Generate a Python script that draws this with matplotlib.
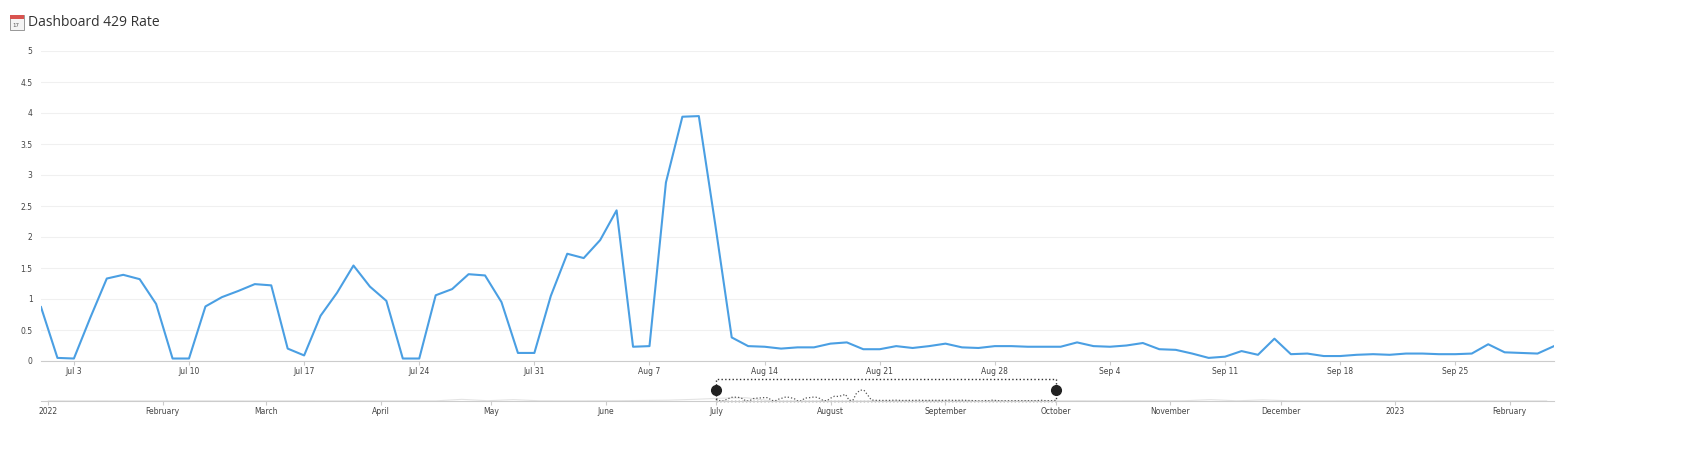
import datetime as dt
import matplotlib
matplotlib.use('Agg')
import matplotlib.pyplot as plt
import matplotlib.dates as mdates
from matplotlib.patches import Rectangle

# Daily 429 rate, Jul 1 - Oct 1 2022
start = dt.date(2022, 7, 1)
rate = [0.87, 0.05, 0.04, 0.7, 1.33, 1.39, 1.32, 0.92, 0.04, 0.04,
        0.88, 1.03, 1.13, 1.24, 1.22, 0.2, 0.09, 0.73, 1.1, 1.54,
        1.2, 0.97, 0.04, 0.04, 1.06, 1.16, 1.4, 1.38, 0.95, 0.13,
        0.13, 1.05, 1.73, 1.66, 1.95, 2.43, 0.23, 0.24, 2.88, 3.94,
        3.95, 2.2, 0.38, 0.24, 0.23, 0.2, 0.22, 0.22, 0.28, 0.3,
        0.19, 0.19, 0.24, 0.21, 0.24, 0.28, 0.22, 0.21, 0.24, 0.24,
        0.23, 0.23, 0.23, 0.3, 0.24, 0.23, 0.25, 0.29, 0.19, 0.18,
        0.12, 0.05, 0.07, 0.16, 0.1, 0.36, 0.11, 0.12, 0.08, 0.08,
        0.1, 0.11, 0.1, 0.12, 0.12, 0.11, 0.11, 0.12, 0.27, 0.14,
        0.13, 0.12, 0.24]
dates = [start + dt.timedelta(days=i) for i in range(len(rate))]

# Navigator background series (weekly, whole range)
nav_start = dt.date(2022, 1, 1)
nav_rate = [0.05, 0.04, 0.06, 0.05, 0.04, 0.05, 0.06, 0.05, 0.04, 0.05,
            0.06, 0.05, 0.07, 0.05, 0.06, 0.05, 0.6, 0.1, 0.5, 0.08,
            0.06, 0.07, 0.1, 0.2, 0.3, 0.6, 1.0, 1.2, 0.0, 0.0,
            0.0, 0.0, 0.0, 0.0, 0.0, 0.0, 0.0, 0.0, 0.0, 0.08,
            0.1, 0.07, 0.09, 0.06, 0.1, 0.5, 0.07, 0.4, 0.08, 0.06,
            0.07, 0.1, 0.06, 0.05, 0.06, 0.07, 0.05, 0.06, 0.05]
nav_dates = [nav_start + dt.timedelta(days=7 * i) for i in range(len(nav_rate))]

W, H = 1694, 459
fig = plt.figure(figsize=(W / 100, H / 100), dpi=100)
blue = '#4a9fe3'

ax = fig.add_axes([41 / W, 1 - 361 / H, (1554 - 41) / W, (361 - 51) / H])
ax.plot(dates, rate, color=blue, lw=1.5)
ax.set_xlim(start, dt.date(2022, 10, 1))
ax.set_ylim(0, 5)
ax.set_yticks([0, 0.5, 1, 1.5, 2, 2.5, 3, 3.5, 4, 4.5, 5])
ax.set_yticklabels(['0', '0.5', '1', '1.5', '2', '2.5', '3', '3.5', '4', '4.5', '5'])
ax.set_xticks([start + dt.timedelta(days=2 + 7 * k) for k in range(13)])
ax.xaxis.set_major_formatter(mdates.DateFormatter('%b %-d'))
ax.grid(axis='y', color='#f0f0f0', lw=0.8)
ax.set_axisbelow(True)
for s in ['top', 'right', 'left']:
    ax.spines[s].set_visible(False)
ax.spines['bottom'].set_color('#cccccc')
ax.tick_params(axis='y', length=0, labelsize=5.5, colors='#444444', pad=6)
ax.tick_params(axis='x', length=3, color='#cccccc', labelsize=5.5, colors='#444444', pad=1.5)

# navigator
nav = fig.add_axes([41 / W, 1 - 401 / H, (1554 - 41) / W, 22 / H])
nav.plot(nav_dates, nav_rate, color='#e3e3e3', lw=0.8)
nav.plot(dates, rate, color='#555555', lw=0.9, ls=':')
nav_lo, nav_hi = dt.date(2021, 12, 30), dt.date(2023, 2, 13)
nav.set_xlim(nav_lo, nav_hi)
nav.set_ylim(0, 8)
x0 = mdates.date2num(dt.date(2022, 7, 1))
x1 = mdates.date2num(dt.date(2022, 10, 1))
nav.add_patch(Rectangle((x0, 0), x1 - x0, 8, fill=False, ls=':', lw=1,
                        ec='#333333', clip_on=False))
for xv in [x0, x1]:
    nav.plot([xv], [4], 'o', ms=7, color='#222222', clip_on=False)
months = [dt.date(2022, m, 1) for m in range(1, 13)] + [dt.date(2023, 1, 1), dt.date(2023, 2, 1)]
nav.set_xticks(months)
nav.set_xticklabels(['2022', 'February', 'March', 'April', 'May', 'June', 'July', 'August',
                     'September', 'October', 'November', 'December', '2023', 'February'])
nav.set_yticks([])
for s in ['top', 'right', 'left']:
    nav.spines[s].set_visible(False)
nav.spines['bottom'].set_color('#cccccc')
nav.tick_params(axis='x', length=3, color='#cccccc', labelsize=5.5, colors='#444444', pad=1.5)

# title with small calendar icon
fig.patches.append(Rectangle((10 / W, 1 - 30 / H), 14 / W, 15 / H, transform=fig.transFigure,
                             fc='#f4f4f4', ec='#888888', lw=0.6))
fig.patches.append(Rectangle((10 / W, 1 - 19 / H), 14 / W, 4 / H, transform=fig.transFigure,
                             fc='#d9534f', ec='none'))
fig.text(12 / W, 1 - 27 / H, '17', fontsize=4, color='#555555')
fig.text(28 / W, 1 - 23 / H, 'Dashboard 429 Rate', fontsize=10, color='#333333',
         family='Open Sans', va='center')

fig.savefig('out.png', dpi=100, facecolor='white')
